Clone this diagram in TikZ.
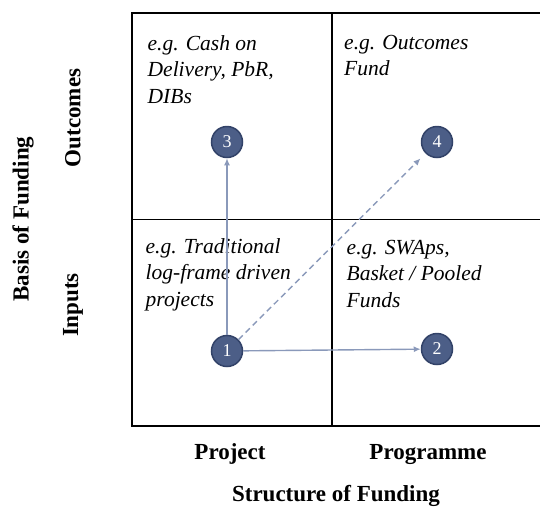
\documentclass[tikz,border=0pt]{standalone}
\usepackage{fontspec}
\setmainfont{Liberation Serif}
\usetikzlibrary{arrows.meta}
\definecolor{nodefill}{RGB}{76,94,135}
\definecolor{nodeedge}{RGB}{50,66,104}
\definecolor{arrowcol}{RGB}{138,153,186}
\tikzset{
  x=1pt, y=-1pt,
  grid/.style={line width=1.2pt, black},
  numnode/.style={circle, fill=nodefill, draw=nodeedge, line width=1.5pt, minimum size=31pt, inner sep=0pt, text=white, font=\fontsize{18}{18}\selectfont},
  conn/.style={arrowcol, line width=1.4pt, -{Latex[length=7pt,width=6pt]}},
  example/.style={anchor=north west, align=left, inner sep=0pt, font=\fontsize{21.5}{26.5}\selectfont\itshape},
  axislabel/.style={font=\fontsize{23}{23}\selectfont\bfseries, inner sep=0pt}
}
\begin{document}
\begin{tikzpicture}
\useasboundingbox (0,0) rectangle (540,509);
% grid
\draw[grid] (540,13) -- (132,13) -- (132,426) -- (540,426);
\draw[grid] (332,13) -- (332,426);
\draw[grid] (132,219.5) -- (540,219.5);
% example texts
\node[example] (tl) at (147.5,35) {e.g. Cash on\\Delivery, PbR,\\DIBs};
\node[example] (tr) at (344,35) {e.g. Outcomes\\Fund};
\node[example] (bl) at (145.5,238) {e.g. Traditional\\log-frame driven\\projects};
\node[example] (br) at (346.5,240) {e.g. SWAps,\\Basket / Pooled\\Funds};
% numbered nodes
\node[numnode] (n1) at (227,351) {1};
\node[numnode] (n2) at (437,349) {2};
\node[numnode] (n3) at (227,142) {3};
\node[numnode] (n4) at (437,142) {4};
% connectors
\draw[conn] (n1) -- (n2);
\draw[conn] (n1) -- (n3);
\draw[conn, dashed, dash pattern=on 6pt off 4pt, shorten >=7pt] (n1) -- (n4);
% axis labels
\node[axislabel, rotate=90] (outc) at (73,118) {Outcomes};
\node[axislabel, rotate=90] (inp) at (73,305) {Inputs};
\node[axislabel, rotate=90] (basis) at (23,219) {Basis of Funding};
\node[axislabel] (proj) at (230,454) {Project};
\node[axislabel] (prog) at (428,454) {Programme};
\node[axislabel] (struct) at (336,496) {Structure of Funding};
\end{tikzpicture}
\end{document}
